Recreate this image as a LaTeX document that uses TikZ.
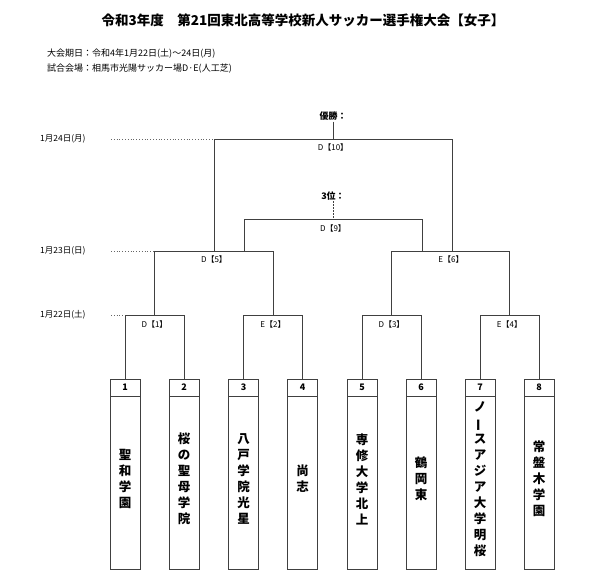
\documentclass[tikz,border=0pt]{standalone}
\usepackage{fontspec}
\setmainfont{Noto Sans CJK JP}
\newcommand{\vbar}{\raisebox{-1pt}{\rotatebox[origin=c]{90}{ー}}}
\begin{document}
\begin{tikzpicture}[x=1pt,y=-1pt,
  br/.style={draw=black!75,line width=0.9pt},
  dot/.style={draw=black!60,dotted,line width=0.8pt},
  lab/.style={font=\fontsize{8}{9}\selectfont,inner sep=0pt},
  date/.style={font=\fontsize{8.5}{9}\selectfont,inner sep=0pt,anchor=west},
  team/.style={font=\bfseries\fontsize{12.5}{16}\selectfont,align=center,inner sep=0pt},
  numb/.style={font=\bfseries\fontsize{9}{10}\selectfont,inner sep=0pt},
  bx/.style={draw=black!75,line width=0.9pt}]
\useasboundingbox (0,0) rectangle (600,570);
\node[font=\bfseries\fontsize{13.5}{15}\selectfont] (title) at (303,20) {令和3年度　第21回東北高等学校新人サッカー選手権大会【女子】};
\node[anchor=west,font=\fontsize{9}{10}\selectfont,inner sep=0pt] (i1) at (47,54) {大会期日：令和4年1月22日(土)～24日(月)};
\node[anchor=west,font=\fontsize{9}{10}\selectfont,inner sep=0pt] (i2) at (47,69) {試合会場：相馬市光陽サッカー場D·E(人工芝)};
% dates
\node[date] (d24) at (40,139) {1月24日(月)};
\node[date] (d23) at (40,251) {1月23日(日)};
\node[date] (d22) at (40,315) {1月22日(土)};
\coordinate (e24) at (111,139);
\coordinate (e23) at (111,251);
\coordinate (e22) at (111,315);
% boxes
\foreach \i/\x/\t in {1/125/聖\\和\\学\\園, 2/184/桜\\の\\聖\\母\\学\\院, 3/243.5/八\\戸\\学\\院\\光\\星, 4/302.5/尚\\志, 5/362/専\\修\\大\\学\\北\\上, 6/421/鶴\\岡\\東, 7/480/ノ\\\vbar\\ス\\ア\\ジ\\ア\\大\\学\\明\\桜, 8/539/常\\盤\\木\\学\\園}{
  \draw[bx] (\x-15,379) rectangle (\x+15,569);
  \draw[bx] (\x-15,396) -- (\x+15,396);
  \node[numb] (n\i) at (\x,387.5) {\i};
  \node[team] (t\i) at (\x,479) {\t};
  \coordinate (b\i) at (\x,379);
}
\coordinate (r1) at (154.5,315);
\coordinate (r2) at (273,315);
\coordinate (r3) at (391.5,315);
\coordinate (r4) at (509.5,315);
\draw[br] (b1) -- (125,315) -- (184,315) -- (b2);
\draw[br] (b3) -- (243.5,315) -- (302.5,315) -- (b4);
\draw[br] (b5) -- (362,315) -- (421,315) -- (b6);
\draw[br] (b7) -- (480,315) -- (539,315) -- (b8);
\node[lab] at (154.5,324) {D【1】};
\node[lab] at (273,324) {E【2】};
\node[lab] at (391.5,324) {D【3】};
\node[lab] at (509.5,324) {E【4】};
\draw[dot] (e22) -- (125,315);
% round 2
\draw[br] (r1) -- (154.5,251) -- (273,251) -- (r2);
\draw[br] (r3) -- (391.5,251) -- (509.5,251) -- (r4);
\node[lab] at (214,259) {D【5】};
\node[lab] at (451,259) {E【6】};
\draw[dot] (e23) -- (154.5,251);
% 3rd place
\draw[br] (244,251) -- (244,219) -- (422,219) -- (422,251);
\node[lab] at (333,228) {D【9】};
\node[font=\bfseries\fontsize{9}{10}\selectfont,inner sep=1pt] (third) at (333,196) {3位：};
\draw[draw=black!75,line width=0.8pt,dash pattern=on 2pt off 1pt] (third) -- (333,219);
% final
\draw[br] (214,251) -- (214,139) -- (452,139) -- (452,251);
\node[lab] at (333,147) {D【10】};
\node[font=\bfseries\fontsize{9}{10}\selectfont,inner sep=1pt] (win) at (333,116) {優勝：};
\draw[br] (win) -- (333,139);
\draw[dot] (e24) -- (214,139);
\end{tikzpicture}
\end{document}
